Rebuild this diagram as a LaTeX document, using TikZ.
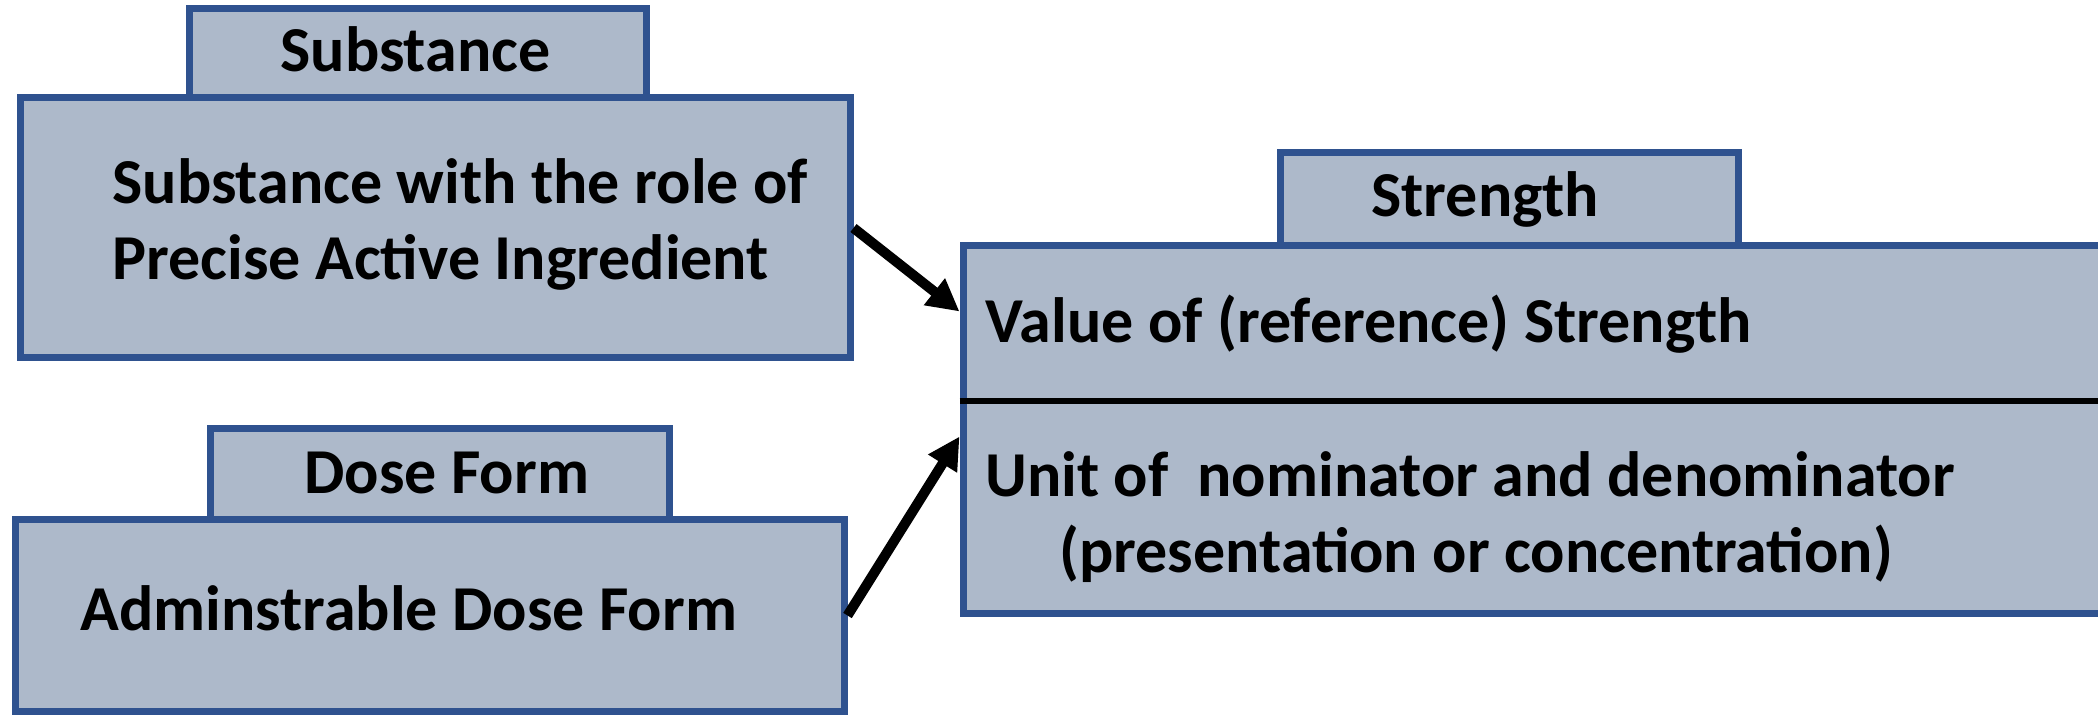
\documentclass[tikz,border=0pt]{standalone}
\usepackage{fontspec}
\setmainfont{Carlito}
\usetikzlibrary{arrows.meta,calc}
\definecolor{boxfill}{RGB}{173,185,202}
\definecolor{boxline}{RGB}{47,82,143}
\begin{document}
\begin{tikzpicture}[x=0.5pt,y=-0.5pt,
  box/.style={draw=boxline,fill=boxfill,line width=3.5pt,rectangle,inner sep=0pt},
  txt/.style={anchor=base west,inner sep=0pt,font=\fontsize{32pt}{37.5pt}\selectfont\bfseries},
  conn/.style={line width=5pt,-{Triangle[length=16pt,width=16pt]}}]
\useasboundingbox (0,0) rectangle (2098,715);
% Substance
\node[box,minimum width=415pt,minimum height=130pt] (subMain) at (435,228) {};
\node[box,minimum width=228.5pt,minimum height=44.5pt] (subHead) at (417.5,53.5) {};
% Dose form
\node[box,minimum width=414.5pt,minimum height=95.5pt] (doseMain) at (429.5,615.5) {};
\node[box,minimum width=229.5pt,minimum height=45.5pt] (doseHead) at (439.5,474.5) {};
% Strength
\node[box,minimum width=578.5pt,minimum height=183.5pt] (strMain) at (1541.5,429.5) {};
\node[box,minimum width=229pt,minimum height=46.5pt] (strHead) at (1509,199.5) {};
\coordinate (divL) at ($(strMain.north west)+(0,159)$);
\coordinate (divR) at ($(strMain.north east)+(0,159)$);
\draw[line width=3pt,black] (divL) -- (divR);
% texts
\node[txt] (tSubHead) at (280,72) {Substance};
\node[txt] (tSub1) at (112,204) {Substance with the role of};
\node[txt] (tSub2) at (112,280) {Precise Active Ingredient};
\node[txt] (tDoseHead) at (304,494) {Dose Form};
\node[txt] (tDose) at (80,630) {Adminstrable Dose Form};
\node[txt] (tStrHead) at (1371,217) {Strength};
\node[txt] (tStr1) at (985,343) {Value of (reference) Strength};
\node[txt] (tStr2) at (985,497) {Unit of\ \ nominator and denominator};
\node[txt] (tStr3) at (1059,573) {(presentation or concentration)};
% connectors
\coordinate (inA) at ($(strMain.north west)+(0,69)$);
\coordinate (inB) at ($(strMain.north west)+(0,194)$);
\draw[conn] (subMain.east) -- (inA);
\draw[conn] (doseMain.east) -- (inB);
\end{tikzpicture}
\end{document}
